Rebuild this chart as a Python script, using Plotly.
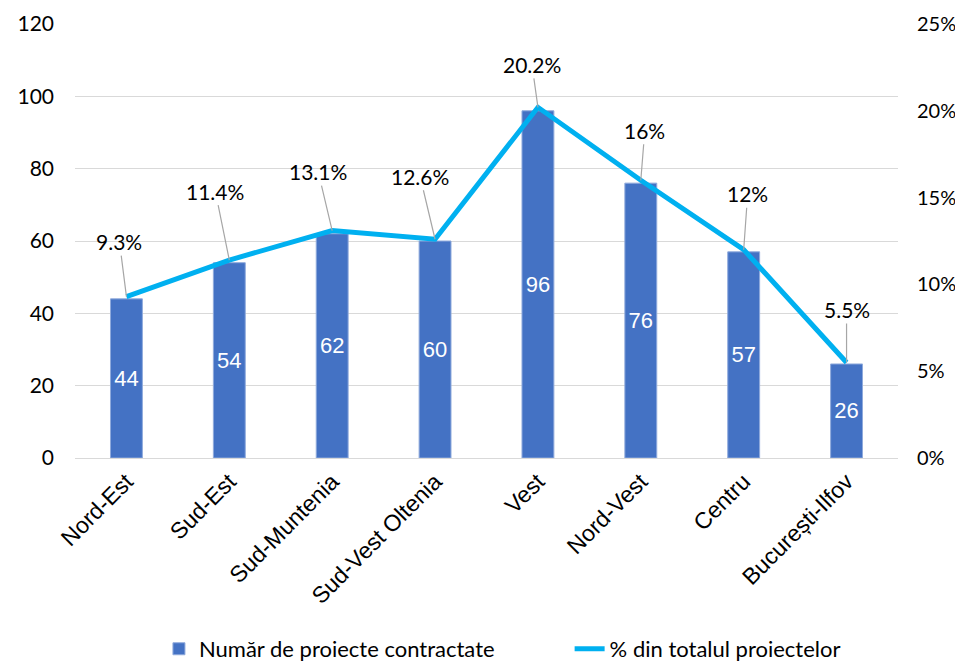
import plotly.graph_objects as go

categories = ["Nord-Est", "Sud-Est", "Sud-Muntenia", "Sud-Vest Oltenia", "Vest", "Nord-Vest", "Centru", "București-Ilfov"]
projects = [44, 54, 62, 60, 96, 76, 57, 26]
percent = [9.3, 11.4, 13.1, 12.6, 20.2, 16, 12, 5.5]
percent_labels = ["9.3%", "11.4%", "13.1%", "12.6%", "20.2%", "16%", "12%", "5.5%"]
label_offsets = [(-7, -55), (-14, -69), (-14, -59), (-15, -63), (-6, -43), (4, -50), (4, -56), (0, -53)]

TICKFONT = "Lato, 'Open Sans', sans-serif"
ARIAL = "'Liberation Sans', Arial, sans-serif"

fig = go.Figure()
fig.add_trace(go.Bar(
    x=categories, y=projects, name="Număr de proiecte contractate",
    marker=dict(color="#4472C4", line=dict(width=1, color="#8FAADC")),
    width=0.31,
    text=[str(v) for v in projects], textposition="inside", insidetextanchor="middle",
    textfont=dict(color="white", size=22, family=ARIAL),
    textangle=0, legend="legend",
))
fig.add_trace(go.Scatter(
    x=categories, y=percent, name="% din totalul proiectelor", yaxis="y2",
    mode="lines", line=dict(color="#00B0F0", width=5), legend="legend2",
))

for c, p, lab, (dx, dy) in zip(categories, percent, percent_labels, label_offsets):
    fig.add_annotation(
        x=c, y=p, xref="x", yref="y2", text=lab,
        showarrow=True, arrowhead=0, arrowwidth=1.2, arrowcolor="#A6A6A6",
        ax=dx, ay=dy, standoff=0, startstandoff=0,
        font=dict(size=21, color="#000000", family=TICKFONT),
    )

legend_font = dict(size=22, family=TICKFONT, color="#000000")
fig.update_layout(
    width=955, height=654,
    margin=dict(l=67, r=65, t=16, b=204, autoexpand=False),
    plot_bgcolor="white", paper_bgcolor="white",
    showlegend=True,
    legend=dict(orientation="h", x=0.102, xanchor="left", y=-0.440, yanchor="middle",
                font=legend_font),
    legend2=dict(orientation="h", x=0.601, xanchor="left", y=-0.440, yanchor="middle",
                 font=legend_font),
    xaxis=dict(tickangle=-45, tickfont=dict(size=23, family=ARIAL, color="#000000"),
               showline=True, linecolor="#D9D9D9", linewidth=1, ticks="", automargin=False,
               showgrid=False),
    yaxis=dict(range=[0, 120], dtick=20, showgrid=True, gridcolor="#D9D9D9", gridwidth=1,
               zeroline=False, tickfont=dict(size=21, family=TICKFONT, color="#000000"),
               ticklabelstandoff=20, automargin=False),
    yaxis2=dict(range=[0, 25], dtick=5, overlaying="y", side="right", showgrid=False,
                zeroline=False, ticksuffix="%",
                tickfont=dict(size=20, family=TICKFONT, color="#000000"),
                ticklabelstandoff=18, automargin=False),
    bargap=0.5,
)

fig.write_html("out.html")
